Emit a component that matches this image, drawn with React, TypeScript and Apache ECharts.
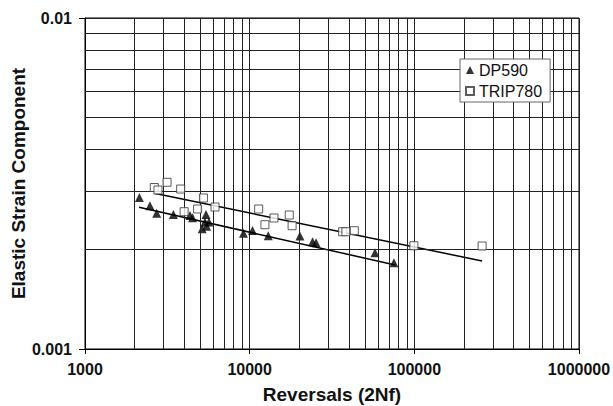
import React, { useEffect, useRef } from "react";
import * as echarts from "echarts";

// DP590 measured points: [reversals 2Nf, elastic strain]
const dp590Points: [number, number][] = [
  [2140, 0.00287],
  [2480, 0.00271],
  [2725, 0.00257],
  [3440, 0.00255],
  [4340, 0.00253],
  [4500, 0.00249],
  [5430, 0.00255],
  [5150, 0.00231],
  [5350, 0.00242],
  [5480, 0.00235],
  [5660, 0.00242],
  [9170, 0.002236],
  [10400, 0.00228],
  [12970, 0.0022],
  [20200, 0.002194],
  [24100, 0.00211],
  [25300, 0.002095],
  [57700, 0.001954],
  [75200, 0.001823],
];

// TRIP780 measured points
const trip780Points: [number, number][] = [
  [2635, 0.003075],
  [2775, 0.003022],
  [3150, 0.003189],
  [3810, 0.003043],
  [5240, 0.002859],
  [4000, 0.002599],
  [4830, 0.002648],
  [6160, 0.002685],
  [11340, 0.002648],
  [12380, 0.002374],
  [14050, 0.002488],
  [17400, 0.00254],
  [18100, 0.002358],
  [36700, 0.002261],
  [38400, 0.002261],
  [43200, 0.002277],
  [99400, 0.002051],
  [258000, 0.002047],
];

// Power-law fit lines (end points)
const dp590Fit: [number, number][] = [
  [2130, 0.00268],
  [76500, 0.001794],
];
const trip780Fit: [number, number][] = [
  [2635, 0.002953],
  [258000, 0.001845],
];

// Axis ranges and minor grid values
const xRange: [number, number] = [1000, 1000000];
const yRange: [number, number] = [0.001, 0.01];
const xMinorGrid: number[] = [
  2000, 3000, 4000, 5000, 6000, 7000, 8000, 9000,
  20000, 30000, 40000, 50000, 60000, 70000, 80000, 90000,
  200000, 300000, 400000, 500000, 600000, 700000, 800000, 900000,
];
const yMinorGrid: number[] = [0.002, 0.003, 0.004, 0.005, 0.006, 0.007, 0.008, 0.009];

const xTitle = "Reversals (2Nf)";
const yTitle = "Elastic Strain Component";

const FONT = "'Liberation Sans', Arial, sans-serif";
const GRID_COLOR = "#222";

export default function App() {
  const ref = useRef<HTMLDivElement>(null);

  useEffect(() => {
    if (!ref.current) return;
    const chart = echarts.init(ref.current, undefined, { renderer: "svg" });
    const gridMarkLines: any[] = [
      ...xMinorGrid.map((v) => [{ coord: [v, yRange[0]] }, { coord: [v, yRange[1]] }]),
      ...yMinorGrid.map((v) => [{ coord: [xRange[0], v] }, { coord: [xRange[1], v] }]),
    ];
    chart.setOption({
      animation: false,
      backgroundColor: "#fff",
      textStyle: { fontFamily: FONT },
      grid: {
        left: 85,
        right: 34,
        top: 18,
        bottom: 57,
        show: true,
        borderColor: "#000",
        borderWidth: 1,
        backgroundColor: "transparent",
        containLabel: false,
        outerBoundsMode: "none",
      },
      legend: {
        data: ["DP590", "TRIP780"],
        orient: "vertical",
        left: 460,
        top: 59,
        z: 100,
        itemWidth: 8,
        itemHeight: 8,
        itemGap: 5,
        padding: [3, 8, 3, 5],
        backgroundColor: "#fff",
        borderColor: "#666",
        borderWidth: 1,
        borderRadius: 0,
        textStyle: { fontFamily: FONT, fontSize: 16, color: "#111" },
      },
      xAxis: {
        type: "log",
        logBase: 10,
        min: xRange[0],
        max: xRange[1],
        name: xTitle,
        nameLocation: "middle",
        nameGap: 36,
        nameMoveOverlap: false,
        nameTextStyle: { fontFamily: FONT, fontSize: 19, fontWeight: "bold", color: "#111" },
        axisLine: { show: true, lineStyle: { color: "#000", width: 1 } },
        axisTick: { show: true, length: 5, lineStyle: { color: "#000" } },
        axisLabel: {
          margin: 12,
          fontFamily: FONT,
          fontSize: 16,
          fontWeight: "bold",
          color: "#111",
          formatter: (v: number) => String(Math.round(v)),
        },
        splitLine: { show: true, lineStyle: { color: GRID_COLOR, width: 1 } },
        minorTick: { show: false },
        minorSplitLine: { show: false },
      },
      yAxis: {
        type: "log",
        logBase: 10,
        min: yRange[0],
        max: yRange[1],
        name: yTitle,
        nameLocation: "middle",
        nameGap: 57,
        nameMoveOverlap: false,
        nameTextStyle: { fontFamily: FONT, fontSize: 19, fontWeight: "bold", color: "#111" },
        axisLine: { show: true, lineStyle: { color: "#000", width: 1 } },
        axisTick: { show: true, length: 6, lineStyle: { color: "#000" } },
        axisLabel: {
          margin: 13,
          fontFamily: FONT,
          fontSize: 16,
          fontWeight: "bold",
          color: "#111",
          formatter: (v: number) => String(Number(v.toPrecision(1))),
        },
        splitLine: { show: true, lineStyle: { color: GRID_COLOR, width: 1 } },
        minorTick: { show: false },
        minorSplitLine: { show: false },
      },
      series: [
        {
          name: "gridlines",
          type: "line",
          data: [],
          silent: true,
          z: 1,
          markLine: {
            silent: true,
            symbol: ["none", "none"],
            label: { show: false },
            lineStyle: { color: GRID_COLOR, width: 1, type: "solid" },
            emphasis: { disabled: true },
            data: gridMarkLines,
          },
        },
        {
          name: "DP590 fit",
          type: "line",
          data: dp590Fit,
          showSymbol: false,
          symbol: "none",
          silent: true,
          lineStyle: { color: "#000", width: 1.5 },
          z: 3,
        },
        {
          name: "TRIP780 fit",
          type: "line",
          data: trip780Fit,
          showSymbol: false,
          symbol: "none",
          silent: true,
          lineStyle: { color: "#000", width: 1.5 },
          z: 3,
        },
        {
          name: "DP590",
          type: "scatter",
          data: dp590Points,
          symbol: "triangle",
          symbolSize: 9,
          itemStyle: { color: "#000" },
          z: 4,
        },
        {
          name: "TRIP780",
          type: "scatter",
          data: trip780Points,
          symbol: "rect",
          symbolSize: 8,
          itemStyle: { color: "#fff", borderColor: "#333", borderWidth: 1 },
          z: 5,
        },
      ],
    });
    return () => chart.dispose();
  }, []);

  return (
    <div
      ref={ref}
      style={{ position: "fixed", left: 0, top: 0, width: 613, height: 406, background: "#fff" }}
    />
  );
}
